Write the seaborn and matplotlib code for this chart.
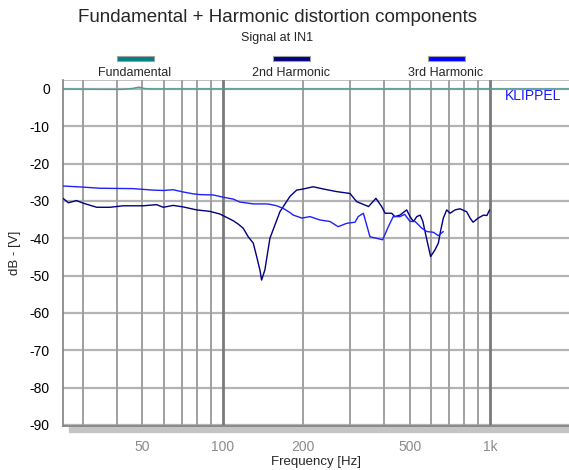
import pandas as pd
import matplotlib
matplotlib.use("Agg")
import matplotlib.pyplot as plt
import matplotlib.ticker as mticker
from matplotlib.patches import Rectangle
import seaborn as sns

# Fundamental (0 dB reference)
fund_freq = [25.2, 35.0, 42.0, 46.0, 48.5, 51.0, 54.0, 70.0, 100.0, 300.0, 1000.0, 1976.0]
fund_db = [0.0, -0.1, -0.1, 0.15, 0.5, 0.1, 0.0, 0.0, 0.0, 0.0, 0.0, 0.0]

# 2nd harmonic
h2_freq = [25.2, 26.4, 28.3, 30.0, 33.7, 37.8, 42.3, 50.3, 56.5, 59.8, 65.1, 71.0,
           79.7, 89.4, 97.4, 103.2, 109.3, 114.1, 119.1, 124.4, 129.9, 133.8,
           137.6, 139.6, 143.6, 150.0, 163.5, 178.2, 188.8, 199.9, 217.9, 237.5,
           266.5, 299.1, 316.9, 350.9, 374.1, 393.0, 404.9, 428.4, 440.3, 460.0,
           487.6, 501.9, 516.8, 532.1, 548.0, 560.6, 576.9, 599.3, 622.5, 640.7,
           654.1, 668.8, 688.4, 708.8, 740.1, 772.0, 818.0, 842.3, 864.7, 903.0,
           945.2, 973.7, 997.0]
h2_db = [-29.3, -30.5, -29.9, -30.6, -31.7, -31.7, -31.3, -31.3, -31.0, -31.7, -31.2, -31.6,
         -32.4, -32.8, -33.5, -34.4, -35.3, -36.2, -37.3, -39.6, -41.3, -44.9,
         -48.5, -51.2, -48.5, -40.0, -32.9, -28.8, -27.1, -26.8, -26.2, -26.8,
         -27.5, -28.0, -30.2, -31.5, -29.3, -31.5, -33.3, -33.3, -34.2, -33.8,
         -32.4, -34.2, -35.5, -34.2, -33.8, -35.5, -39.6, -44.9, -43.1, -41.3,
         -37.8, -34.6, -32.4, -33.3, -32.4, -32.1, -32.9, -34.6, -35.7, -34.6,
         -33.8, -33.9, -32.4]

# 3rd harmonic
h3_freq = [25.2, 30.0, 34.6, 46.1, 54.8, 59.8, 65.1, 71.0, 77.4, 82.0, 92.0, 100.3,
           109.3, 115.8, 129.9, 145.9, 150.0, 159.0, 168.2, 178.2, 183.4, 194.2,
           197.3, 211.8, 230.8, 251.6, 270.1, 290.6, 312.4, 321.0, 335.7, 355.3,
           376.0, 396.4, 416.3, 434.1, 460.0, 479.4, 501.9, 524.3, 555.5, 580.0,
           614.0, 640.7, 668.8]
h3_db = [-26.0, -26.3, -26.6, -26.7, -27.1, -27.2, -27.0, -27.6, -28.1, -28.3, -28.4, -29.0,
         -29.5, -30.3, -30.8, -30.8, -30.9, -31.3, -32.0, -33.1, -33.8, -34.4,
         -34.6, -34.2, -35.1, -35.5, -36.9, -36.0, -35.7, -34.2, -33.3, -39.6,
         -40.0, -40.4, -36.9, -34.2, -34.2, -33.6, -35.5, -35.5, -37.3, -38.2,
         -38.4, -39.3, -38.2]

series_names = ["Fundamental", "2nd Harmonic", "3rd Harmonic"]
series_colors = ["#008080", "#000080", "#0000FF"]
line_colors = ["#4f9a9a", "#000080", "#2020ff"]

x_ticks = [50, 100, 200, 500, 1000]
x_ticklabels = ["50", "100", "200", "500", "1k"]
y_ticks = [0, -10, -20, -30, -40, -50, -60, -70, -80, -90]

df = pd.concat([
    pd.DataFrame({"freq": fund_freq, "db": fund_db, "series": series_names[0]}),
    pd.DataFrame({"freq": h2_freq, "db": h2_db, "series": series_names[1]}),
    pd.DataFrame({"freq": h3_freq, "db": h3_db, "series": series_names[2]}),
])

sns.set_theme(style="white")
plt.rcParams["font.family"] = ["Liberation Sans", "DejaVu Sans"]
plt.rcParams["axes.unicode_minus"] = False

W, H = 569, 470
fig = plt.figure(figsize=(W / 100, H / 100), dpi=100)
ax = fig.add_axes([63 / W, 1 - 426 / H, (W - 63) / W, (426 - 80) / H])

ax.set_xscale("log")
ax.set_xlim(25.2, 1976)
ax.set_ylim(-90.3, 2.4)

# grid: horizontal every 10 dB, vertical at each 1..9 x decade
for y in y_ticks:
    ax.axhline(y, color="#b4b4b4", lw=1.6, zorder=0)
for dec in [10, 100, 1000]:
    for m in range(1, 10):
        f = dec * m
        if 25.2 < f < 1976:
            if m == 1:
                ax.axvline(f, color="#7a7a7a", lw=2.0, zorder=0.5)
            else:
                ax.axvline(f, color="#a0a0a0", lw=1.4, zorder=0.5)

sns.lineplot(data=df, x="freq", y="db", hue="series", palette=line_colors,
             hue_order=series_names, estimator=None, sort=False, lw=1.0,
             legend=False, ax=ax, zorder=3)

for s in ["top", "right"]:
    ax.spines[s].set_visible(False)
ax.spines["left"].set_color("#808080")
ax.spines["left"].set_linewidth(1.2)
ax.spines["bottom"].set_color("#8a8a8a")
ax.spines["bottom"].set_linewidth(1.4)
ax.axhline(2.4, color="#c0c0c0", lw=1.4, zorder=0.4)

ax.set_yticks(y_ticks)
ax.yaxis.set_minor_locator(mticker.MultipleLocator(2))
ax.tick_params(axis="y", which="major", direction="inout", length=9, width=1.0,
               color="#707070", labelsize=10, labelcolor="black", pad=5)
ax.tick_params(axis="y", which="minor", direction="in", length=5, width=1.0,
               color="#a8a8a8")

ax.set_xticks(x_ticks)
ax.set_xticklabels(x_ticklabels)
ax.xaxis.set_minor_locator(mticker.NullLocator())
ax.tick_params(axis="x", which="major", length=0, labelsize=10,
               labelcolor="#8a8a8a", pad=10)

ax.set_xlabel("")
ax.set_ylabel("dB - [V]", fontsize=9.5)
ax.yaxis.set_label_coords(-0.083, 0.5)
fig.text(316 / W, 1 - 462 / H, "Frequency [Hz]", ha="center", va="center",
         fontsize=9.5)

# shaded floor under the axis
fig.add_artist(Rectangle((69 / W, 1 - 432 / H), (W - 69) / W, 6 / H,
                         transform=fig.transFigure, color="#c4c4c4", zorder=0))

ax.text(0.985, 0.955, "KLIPPEL", transform=ax.transAxes, ha="right", va="center",
        color="#1a1aff", fontsize=10)

fig.text(278 / W, 1 - 18 / H, "Fundamental + Harmonic distortion components",
         ha="center", va="center", fontsize=13.5)
fig.text(277 / W, 1 - 38 / H, "Signal at IN1", ha="center", va="center", fontsize=9)

# legend: coloured bars above labels
legend_x = [135, 291, 446]
for name, col, cx in zip(series_names, series_colors, legend_x):
    fig.add_artist(Rectangle(((cx - 18) / W, 1 - 61 / H), 37 / W, 5 / H,
                             transform=fig.transFigure, facecolor=col,
                             edgecolor="#a0a0a0", lw=0.8))
    fig.text(cx / W, 1 - 73 / H, name, ha="center", va="center", fontsize=9)

fig.savefig("out.png", dpi=100)
